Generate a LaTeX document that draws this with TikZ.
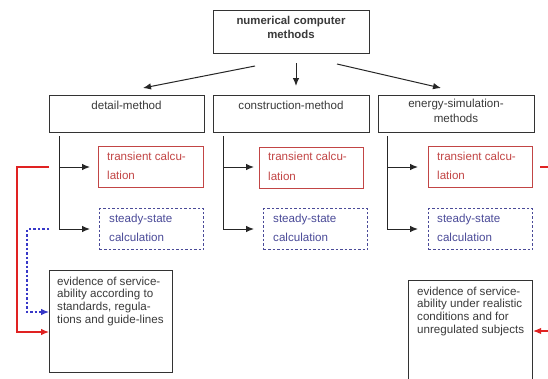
\documentclass[tikz,border=0pt]{standalone}
\usepackage{fontspec}
\setmainfont{Liberation Sans}
\usetikzlibrary{arrows.meta}
\definecolor{ink}{HTML}{3A3A3A}
\definecolor{boxgray}{HTML}{333333}
\definecolor{tred}{HTML}{C24545}
\definecolor{tblue}{HTML}{4A4A98}
\definecolor{lred}{HTML}{E02222}
\definecolor{lblue}{HTML}{3838C8}
\tikzset{
  box/.style={draw=boxgray, line width=1.1pt, inner sep=0pt, anchor=north west},
  tbox/.style={draw=tred, line width=1.1pt, inner sep=0pt, anchor=north west},
  sbox/.style={draw=tblue, line width=1.1pt, dash pattern=on 2.5pt off 2pt, inner sep=0pt, anchor=north west},
  lbl/.style={inner sep=0pt, text=ink, font=\fontsize{11.6}{14}\selectfont},
  tlbl/.style={inner sep=0pt, anchor=north west, align=left, text=tred, font=\fontsize{11.6}{19.5}\selectfont},
  slbl/.style={inner sep=0pt, anchor=north west, align=left, text=tblue, font=\fontsize{11.6}{19.5}\selectfont},
  elbl/.style={inner sep=0pt, anchor=north west, align=left, text=ink, font=\fontsize{11.6}{12.7}\selectfont},
  tip/.style={-{Latex[length=8pt,width=6.5pt]}},
  conn/.style={draw=black!85, line width=1pt, tip},
}
\begin{document}
\begin{tikzpicture}[x=1pt,y=-1pt]
\useasboundingbox (0,0) rectangle (548,378);
\clip (0,0) rectangle (548,378);
\fill[white] (0,0) rectangle (548,378);

% top box
\node[box, minimum width=156pt, minimum height=43pt] (top) at (213,10) {};
\node[lbl, anchor=north, align=center, font=\bfseries\fontsize{11.4}{14}\selectfont] (toptxt) at (291,16.5) {numerical computer\\methods};

% row boxes
\node[box, minimum width=155pt, minimum height=37pt] (b1) at (49,95) {};
\node[box, minimum width=156pt, minimum height=37pt] (b2) at (213,95) {};
\node[box, minimum width=156pt, minimum height=37pt] (b3) at (378,95) {};
\node[lbl, anchor=north] (b1t) at (126.5,100.5) {detail-method};
\node[lbl, anchor=north] (b2t) at (291,100.5) {construction-method};
\node[lbl, anchor=north, align=center, font=\fontsize{11.6}{15}\selectfont] (b3t) at (456,99) {energy-simulation-\\methods};

% arrows from top
\coordinate (a1s) at (255,66); \coordinate (a1e) at (143,88);
\coordinate (a2s) at (296,63); \coordinate (a2e) at (296,86);
\coordinate (a3s) at (337,64); \coordinate (a3e) at (441,88);
\draw[conn] (a1s) -- (a1e);
\draw[conn] (a2s) -- (a2e);
\draw[conn] (a3s) -- (a3e);

% transient / steady boxes
\node[tbox, minimum width=105pt, minimum height=41pt] (tr1) at (98,146) {};
\node[tbox, minimum width=104pt, minimum height=41pt] (tr2) at (259,147) {};
\node[tbox, minimum width=104pt, minimum height=41pt] (tr3) at (428,146) {};
\node[sbox, minimum width=104pt, minimum height=41pt] (st1) at (99,208) {};
\node[sbox, minimum width=104pt, minimum height=41pt] (st2) at (263,208) {};
\node[sbox, minimum width=104pt, minimum height=41pt] (st3) at (428,208) {};

\node[tlbl] (tr1t) at (107,151.5) {transient calcu-\\lation};
\node[tlbl] (tr2t) at (268,152) {transient calcu-\\lation};
\node[tlbl] (tr3t) at (437,151.5) {transient calcu-\\lation};
\node[slbl] (st1t) at (109,213.5) {steady-state\\calculation};
\node[slbl] (st2t) at (273,213.5) {steady-state\\calculation};
\node[slbl] (st3t) at (437,213.5) {steady-state\\calculation};

% branch connectors
\foreach \i/\x in {1/59,2/223,3/387}{
  \coordinate (v\i) at (\x,136);
  \coordinate (vt\i) at (\x,167);
  \coordinate (vs\i) at (\x,229);
  \coordinate (et\i) at (\x+31,167);
  \coordinate (es\i) at (\x+31,229);
  \draw[conn, -] (v\i) -- (vs\i);
  \draw[conn] (vt\i) -- (et\i);
  \draw[conn] (vs\i) -- (es\i);
}

% evidence boxes
\node[box, minimum width=123pt, minimum height=102pt] (ev1) at (49,270) {};
\node[elbl] (ev1t) at (57,276.5) {evidence of service-\\ability according to\\standards, regula-\\tions and guide-lines};
\node[box, minimum width=124pt, minimum height=115pt] (ev2) at (408,280) {};
\node[elbl] (ev2t) at (417,286.5) {evidence of service-\\ability under realistic\\conditions and for\\unregulated subjects};

% feedback connectors
\coordinate (r1) at (49,167); \coordinate (r1e) at (ev1.west |- 0,332);
\draw[draw=lred, line width=1.1pt, tip] (r1) -- (17,167) -- (17,332) -- (r1e);
\coordinate (bl1) at (49,229); \coordinate (bl1e) at (ev1.west |- 0,312);
\draw[draw=lblue, line width=1.1pt, dash pattern=on 2.5pt off 2pt, tip] (bl1) -- (27,229) -- (27,312) -- (bl1e);
\coordinate (r3) at (540,167); \coordinate (r3e) at (ev2.east |- 0,331);
\draw[draw=lred, line width=1.1pt, tip] (r3) -- (556,167) -- (556,331) -- (r3e);
\end{tikzpicture}
\end{document}
